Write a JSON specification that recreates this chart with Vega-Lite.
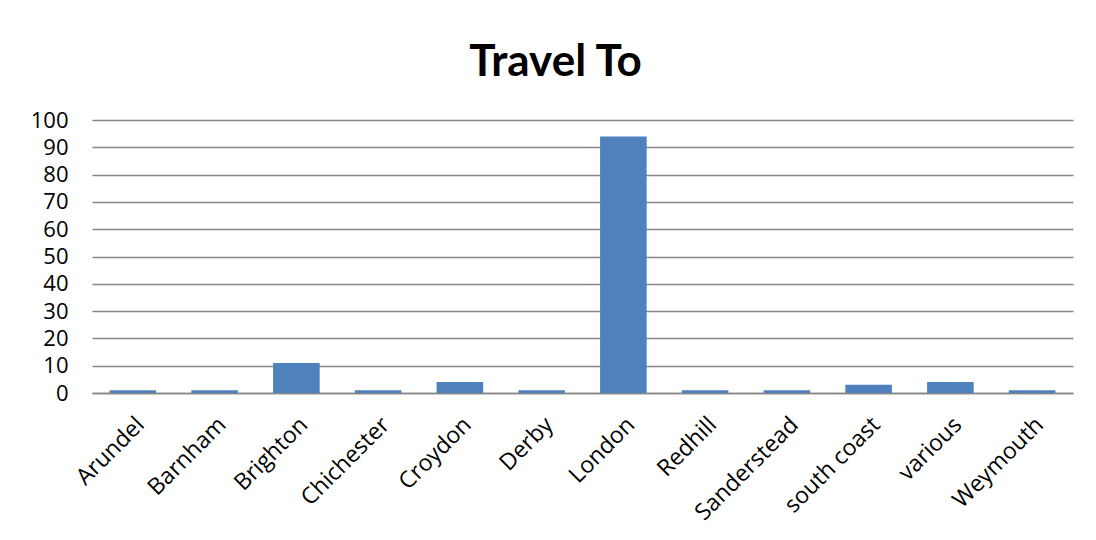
{
  "$schema": "https://vega.github.io/schema/vega-lite/v6.json",
  "autosize": "none",
  "width": 981,
  "height": 273,
  "padding": {"left": 92, "top": 120, "right": 23, "bottom": 147},
  "background": "white",
  "title": {"text": "Travel To", "font": "Lato", "fontSize": 44, "fontWeight": "bold", "color": "#000000", "anchor": "middle", "dx": -27, "offset": 24},
  "data": {"values": [
    {"place": "Arundel", "count": 1},
    {"place": "Barnham", "count": 1},
    {"place": "Brighton", "count": 11},
    {"place": "Chichester", "count": 1},
    {"place": "Croydon", "count": 4},
    {"place": "Derby", "count": 1},
    {"place": "London", "count": 94},
    {"place": "Redhill", "count": 1},
    {"place": "Sanderstead", "count": 1},
    {"place": "south coast", "count": 3},
    {"place": "various", "count": 4},
    {"place": "Weymouth", "count": 1}
  ]},
  "mark": {"type": "bar", "color": "#4F81BD"},
  "encoding": {
    "x": {"field": "place", "type": "nominal", "sort": null, "title": null,
      "scale": {"paddingInner": 0.43, "paddingOuter": 0.215},
      "axis": {"labelAngle": -45, "labelAlign": "right", "labelBaseline": "top", "labelFont": "Open Sans", "labelFontSize": 23, "labelColor": "#000000", "labelPadding": 20, "ticks": false, "domainColor": "#868686", "domainWidth": 1.5, "grid": false, "labelOverlap": false}},
    "y": {"field": "count", "type": "quantitative", "title": null,
      "scale": {"domain": [0, 100], "nice": false},
      "axis": {"values": [0,10,20,30,40,50,60,70,80,90,100], "labelFont": "Open Sans", "labelFontSize": 22, "labelColor": "#000000", "labelPadding": 24, "ticks": false, "domain": false, "gridColor": "#868686", "gridWidth": 1.3}}
  },
  "config": {"view": {"stroke": null}}
}
